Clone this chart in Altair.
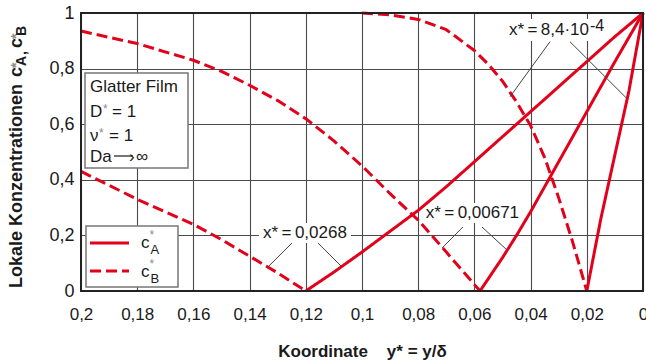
import altair as alt
import pandas as pd

FONT = "Liberation Sans, Arial, Helvetica, sans-serif"
RED = "#e2001a"
TXT = "#1a1a1a"
GRID = "#4a4a4a"
STAR = "#8a8a8a"

# ---------------- curve data (y* = y/delta  ->  c*) ----------------
# x* = 0.0268
ystar_A1 = [0.12, 0.11, 0.10, 0.09, 0.08, 0.07, 0.06, 0.05, 0.04, 0.03, 0.02, 0.01, 0.0]
cA_1 = [0.0, 0.068, 0.14, 0.215, 0.29, 0.375, 0.465, 0.555, 0.645, 0.735, 0.825, 0.915, 1.0]
ystar_B1 = [0.2, 0.19, 0.18, 0.17, 0.16, 0.15, 0.14, 0.13, 0.12]
cB_1 = [0.43, 0.38, 0.33, 0.285, 0.24, 0.185, 0.125, 0.065, 0.0]
# x* = 0.00671
ystar_A2 = [0.058, 0.05, 0.045, 0.04, 0.035, 0.03, 0.02, 0.01, 0.0]
cA_2 = [0.0, 0.12, 0.2, 0.285, 0.375, 0.465, 0.645, 0.825, 1.0]
ystar_B2 = [0.2, 0.18, 0.16, 0.15, 0.14, 0.13, 0.12, 0.11, 0.10, 0.09, 0.08, 0.07, 0.058]
cB_2 = [0.935, 0.89, 0.83, 0.79, 0.74, 0.685, 0.62, 0.54, 0.45, 0.35, 0.255, 0.14, 0.0]
# x* = 8.4e-4
ystar_A3 = [0.02, 0.015, 0.01, 0.005, 0.0]
cA_3 = [0.0, 0.26, 0.49, 0.72, 1.0]
ystar_B3 = [0.1, 0.09, 0.08, 0.07, 0.06, 0.055, 0.05, 0.045, 0.04, 0.035, 0.03, 0.025, 0.02]
cB_3 = [1.0, 0.993, 0.977, 0.94, 0.865, 0.815, 0.755, 0.68, 0.595, 0.48, 0.335, 0.175, 0.0]

x_ticks = [0.0, 0.02, 0.04, 0.06, 0.08, 0.1, 0.12, 0.14, 0.16, 0.18, 0.2]
y_ticks = [0.0, 0.2, 0.4, 0.6, 0.8, 1.0]

# annotations (x* labels) in data coordinates
ann_text = ["x*\u2009=\u20090,0268", "x*\u2009=\u20090,00671", "x*\u2009=\u20098,4\u00b710"]
ann_x = [0.1203, 0.0607, 0.03345]
ann_y = [0.2086, 0.281, 0.939]
box_x = [0.1203, 0.0607, 0.0306]
box_w = [92, 100, 102]
box_h = [20, 20, 22]
exp_text = ["-4"]
exp_x = [0.01886]
exp_y = [0.953]
lead_x = [0.1249, 0.1157, 0.0641, 0.0573, 0.0331, 0.0260]
lead_y = [0.1727, 0.1727, 0.2302, 0.2302, 0.8968, 0.8968]
lead_x2 = [0.1335, 0.1071, 0.0715, 0.0484, 0.0473, 0.0058]
lead_y2 = [0.0863, 0.0863, 0.1547, 0.1475, 0.6989, 0.6931]

# ---------------- tables ----------------
series = [
    ("A1", "A", ystar_A1, cA_1), ("B1", "B", ystar_B1, cB_1),
    ("A2", "A", ystar_A2, cA_2), ("B2", "B", ystar_B2, cB_2),
    ("A3", "A", ystar_A3, cA_3), ("B3", "B", ystar_B3, cB_3),
]
rows = []
for name, kind, ys, cs in series:
    for i, (yv, cv) in enumerate(zip(ys, cs)):
        rows.append({"series": name, "kind": kind, "ystar": yv, "c": cv, "i": i})
df = pd.DataFrame(rows)

ann_df = pd.DataFrame({"label": ann_text, "ystar": ann_x, "c": ann_y})
exp_df = pd.DataFrame({"label": exp_text, "ystar": exp_x, "c": exp_y})
lead_df = pd.DataFrame({"ystar": lead_x, "c": lead_y, "ystar2": lead_x2, "c2": lead_y2})
one = pd.DataFrame({"d": [0]})

label_expr = "replace(format(datum.value, '~g'), '.', ',')"
xscale = alt.Scale(domain=[0, 0.2], reverse=True, nice=False, zero=False)
yscale = alt.Scale(domain=[0, 1], nice=False)
xaxis = alt.Axis(values=x_ticks, labelExpr=label_expr, grid=True, ticks=False, tickSize=0,
                 domain=False, labelFont=FONT, labelFontSize=17, labelColor=TXT,
                 labelBaseline="alphabetic", labelPadding=28, labelFlush=False,
                 labelOverlap=False, gridColor=GRID, gridWidth=1.1,
                 title="Koordinate\u00a0\u00a0\u00a0\u00a0y* = y/\u03b4", titleFont=FONT,
                 titleFontSize=17, titleFontWeight="bold", titleColor=TXT,
                 titleBaseline="alphabetic", titleY=65)
yaxis = alt.Axis(values=y_ticks, labelExpr=label_expr, grid=True, ticks=False, tickSize=0,
                 domain=False, labelFont=FONT, labelFontSize=18, labelColor=TXT,
                 labelPadding=7, labelFlush=False, labelOverlap=False,
                 gridColor=GRID, gridWidth=1.1, title=None)
X = alt.X("ystar:Q", scale=xscale, axis=xaxis)
Y = alt.Y("c:Q", scale=yscale, axis=yaxis)

layers = []

# white boxes behind annotation labels
for bx, by, bw, bh in zip(box_x, ann_y, box_w, box_h):
    layers.append(
        alt.Chart(pd.DataFrame({"ystar": [bx], "c": [by]}))
        .mark_rect(color="white", width=bw, height=bh)
        .encode(x=X, y=Y)
    )

lines = alt.Chart(df).mark_line(strokeWidth=3, color=RED, strokeJoin="round").encode(
    x=X, y=Y, detail="series:N", order="i:Q",
    strokeDash=alt.StrokeDash("kind:N", scale=alt.Scale(domain=["A", "B"], range=[[1, 0], [11, 5]]),
                              legend=None),
)
layers.append(lines)

layers.append(
    alt.Chart(lead_df).mark_rule(color="#444444", strokeWidth=1).encode(
        x=X, y=Y, x2="ystar2:Q", y2="c2:Q")
)
layers.append(
    alt.Chart(ann_df).mark_text(font=FONT, fontSize=17, color=TXT, align="center",
                                baseline="middle").encode(x=X, y=Y, text="label:N")
)
layers.append(
    alt.Chart(exp_df).mark_text(font=FONT, fontSize=16, color=TXT, align="left",
                                baseline="middle").encode(x=X, y=Y, text="label:N")
)


def txt(text, x, y, size=17, weight="normal", color=TXT, align="left", angle=0, font=FONT):
    return alt.Chart(one).mark_text(text=text, font=font, fontSize=size, fontWeight=weight,
                                    color=color, align=align, baseline="alphabetic",
                                    angle=angle).encode(x=alt.value(x), y=alt.value(y))


def box(x1, x2, y1, y2):
    return alt.Chart(one).mark_rect(fill="white", stroke="#777777", strokeWidth=1.5).encode(
        x=alt.value(x1), x2=alt.value(x2), y=alt.value(y1), y2=alt.value(y2))


# info box
layers += [
    box(4, 107, 60, 155),
    txt("Glatter Film", 9, 79),
    txt("D", 9, 104), txt("*", 22, 100, size=12, color=STAR), txt("= 1", 31, 104),
    txt("\u03bd", 9, 128), txt("*", 18, 124, size=12, color=STAR), txt("= 1", 28, 128),
    txt("Da", 9, 149),
    alt.Chart(one).mark_rule(color=TXT, strokeWidth=1.2).encode(
        x=alt.value(33), x2=alt.value(52), y=alt.value(143)),
    txt("\u203a", 48, 149, size=17),
    txt("\u221e", 55, 149),
]

# legend box
layers += [
    box(5, 97, 213, 274),
    alt.Chart(one).mark_rule(color=RED, strokeWidth=3).encode(
        x=alt.value(9), x2=alt.value(48), y=alt.value(230)),
    alt.Chart(one).mark_rule(color=RED, strokeWidth=3, strokeDash=[11, 5]).encode(
        x=alt.value(9), x2=alt.value(48), y=alt.value(258)),
    txt("c", 60, 235), txt("*", 68.5, 226, size=12, color=STAR), txt("A", 69.5, 241, size=13),
    txt("c", 60, 264), txt("*", 68.5, 255, size=12, color=STAR), txt("B", 69.5, 270, size=13),
]

# y axis title (rotated, with sub/superscripts)
layers += [
    txt("Lokale Konzentrationen", -59, 275, size=18, weight="bold", angle=270),
    txt("c", -59, 64, size=18, weight="bold", angle=270),
    txt("*", -60, 55, size=14, weight="bold", color=STAR, angle=270),
    txt("A", -55, 53, size=14, weight="bold", angle=270),
    txt(",", -55, 42, size=14, weight="bold", angle=270),
    txt("c", -59, 35, size=18, weight="bold", angle=270),
    txt("*", -60, 26, size=14, weight="bold", color=STAR, angle=270),
    txt("B", -55, 23, size=14, weight="bold", angle=270),
]

# frame
layers.append(
    alt.Chart(one).mark_rect(fillOpacity=0, stroke="#222222", strokeWidth=2).encode(
        x=alt.value(0), x2=alt.value(562), y=alt.value(0), y2=alt.value(278))
)

chart = alt.layer(*layers).properties(
    width=562, height=278,
    autosize=alt.AutoSizeParams(type="none"),
    padding={"left": 81, "top": 13, "right": 3, "bottom": 72},
    background="white",
).configure_view(stroke=None)

chart.save("out.html", embed_options={"renderer": "svg", "actions": False})
